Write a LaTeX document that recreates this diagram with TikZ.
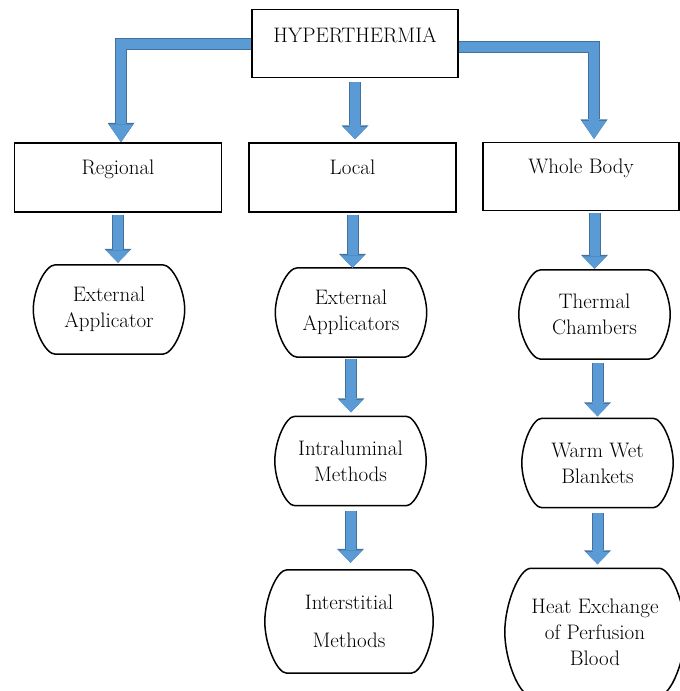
\documentclass[tikz,border=0pt]{standalone}
\usepackage{xcolor}
\usetikzlibrary{arrows.meta}
\definecolor{arrowfill}{HTML}{5B9BD5}
\definecolor{arrowedge}{HTML}{41719C}
\tikzset{%
  tipS/.tip={Triangle[width=24pt,length=12.5pt,line width=0pt]},
  tipSo/.tip={Triangle[width=27pt,length=14pt,line width=0pt]},
  tipL/.tip={Triangle[width=24pt,length=18pt,line width=0pt]},
  tipLo/.tip={Triangle[width=27pt,length=19.5pt,line width=0pt]},
  catbox/.style={draw, line width=1.5pt, inner sep=0pt, minimum width=207pt, minimum height=69pt, text height=14pt, text depth=20pt},
  methodbox/.style={align=center, inner sep=0pt, minimum width=151pt, minimum height=89pt},
  downarrow/.style={draw=arrowfill, line width=10pt, -tipS, preaction={draw=arrowedge, line width=12pt, -tipSo}},
  elbowarrow/.style={draw=arrowfill, line width=10pt, -tipL, preaction={draw=arrowedge, line width=12pt, -tipLo}}
}

\begin{document}
\begin{tikzpicture}[x=1pt,y=-1pt,font=\fontsize{21}{26}\selectfont]
\useasboundingbox (0,0) rectangle (680,691);
% boxes
\node[catbox, minimum width=206pt, minimum height=68pt, text depth=16pt] (hyp) at (355,43.5) {HYPERTHERMIA};
\node[catbox] (regional) at (118,177.5) {Regional};
\node[catbox] (local) at (352.5,177.5) {Local};
\node[catbox, minimum width=196pt, minimum height=68pt] (whole) at (581,176.7) {Whole Body};
% methods
\node[methodbox] (ea1) at (109,309.5) {External\\Applicator};
\node[methodbox] (ea2) at (351,312.5) {External\\Applicators};
\node[methodbox] (im) at (350.5,461) {Intraluminal\\Methods};
\node[methodbox, minimum width=168pt, minimum height=103pt] (ism) at (349,621.5) {Interstitial\\[12pt]Methods};
\node[methodbox] (tc) at (594.5,314.5) {Thermal\\Chambers};
\node[methodbox] (wwb) at (597.5,463) {Warm Wet\\Blankets};
\node[methodbox, minimum width=180pt, minimum height=127pt] (hex) at (595,632) {Heat Exchange\\of Perfusion\\Blood};
% bulging sides: \d = inset of the flat top, \m = pull at the side
\foreach \n/\d/\m in {ea1/22/20,ea2/22/20,im/20/20,tc/22/20,wwb/20/20,ism/22/23,hex/26/28}
  \draw[line width=1.5pt] ([xshift={\d*1pt}]\n.north west) -- ([xshift={-\d*1pt}]\n.north east)
    .. controls ([xshift={-0.55*\d*1pt}]\n.north east) and ([yshift={\m*1pt}]\n.east) .. (\n.east)
    .. controls ([yshift={-\m*1pt}]\n.east) and ([xshift={-0.55*\d*1pt}]\n.south east) .. ([xshift={-\d*1pt}]\n.south east)
    -- ([xshift={\d*1pt}]\n.south west)
    .. controls ([xshift={0.55*\d*1pt}]\n.south west) and ([yshift={-\m*1pt}]\n.west) .. (\n.west)
    .. controls ([yshift={\m*1pt}]\n.west) and ([xshift={0.55*\d*1pt}]\n.north west) .. cycle;
% arrows
\draw[elbowarrow] (hyp.west) -| ([xshift=3pt]regional.north);
\draw[elbowarrow] ([yshift=-3.5pt]hyp.east) -| ([xshift=13pt,yshift=3pt]whole.north);
\draw[downarrow, shorten <=4pt, shorten >=3pt] (hyp.south) -- (hyp.south |- local.north);
\draw[downarrow, shorten <=2pt, shorten >=2pt] (regional.south) -- (regional.south |- ea1.north);
\draw[downarrow, shorten <=2pt] (local.south) -- (local.south |- ea2.north);
\draw[downarrow, shorten <=2pt, shorten >=1pt] (tc.north |- whole.south) -- (tc.north);
\draw[downarrow, shorten <=2pt, shorten >=4pt] (ea2.south) -- (ea2.south |- im.north);
\draw[downarrow, shorten <=4pt, shorten >=2pt] (wwb.north |- tc.south) -- (wwb.north);
\draw[downarrow, shorten <=5pt, shorten >=7pt] (im.south) -- (im.south |- ism.north);
\draw[downarrow, shorten <=5pt, shorten >=4pt] (wwb.south) -- (wwb.south |- hex.north);
\end{tikzpicture}
\end{document}
